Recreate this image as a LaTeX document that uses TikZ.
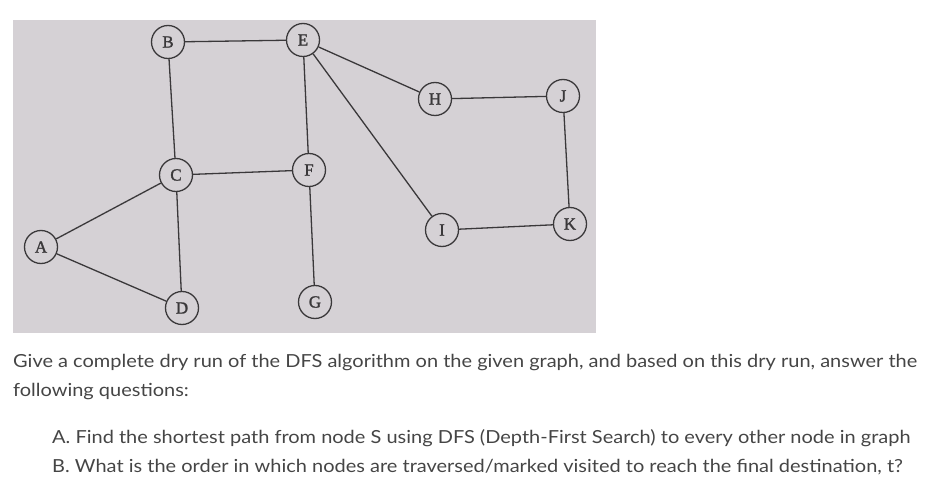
\documentclass[tikz,border=0pt]{standalone}
\usepackage{fontspec}
\setmainfont{Lato}[FakeStretch=1.11]
\newfontfamily\lettfont{Liberation Serif}[FakeBold=1.5]
\usepackage{tikz}
\usetikzlibrary{positioning}
\definecolor{photobg}{HTML}{D5D1D5}
\definecolor{inkline}{HTML}{3A383A}
\definecolor{qtext}{HTML}{454545}

\begin{document}
\begin{tikzpicture}[
    x=1pt, y=-1pt,
    vert/.style={
        circle, draw=inkline, line width=1.3pt, fill=photobg,
        minimum size=33pt, inner sep=0pt,
        font=\lettfont\fontsize{17}{17}\selectfont, text=inkline
    },
    edge/.style={draw=inkline, line width=1.3pt},
    qline/.style={anchor=west, inner sep=0pt,
        font=\fontsize{18}{20}\selectfont, text=qtext},
]

\useasboundingbox (0,0) rectangle (929,489);

%% ============ PHOTO BACKGROUND ============
\fill[photobg] (13,20) rectangle (596,333);

%% ============ VERTICES ============
\node[vert] (A) at (41,247) {A};
\node[vert] (B) at (168,42) {B};
\node[vert] (E) at (303,40) {E};
\node[vert] (C) at (176,175) {C};
\node[vert] (F) at (309,170) {F};
\node[vert] (D) at (182,308) {D};
\node[vert] (G) at (315,302) {G};
\node[vert] (H) at (435,99) {H};
\node[vert] (J) at (563,96) {J};
\node[vert] (I) at (442,230) {I};
\node[vert] (K) at (570,224) {K};

%% ============ EDGES ============
\draw[edge] (B) -- (E);
\draw[edge] (B) -- (C);
\draw[edge] (E) -- (F);
\draw[edge] (E) -- (H);
\draw[edge] (E) -- (I);
\draw[edge] (H) -- (J);
\draw[edge] (J) -- (K);
\draw[edge] (I) -- (K);
\draw[edge] (C) -- (F);
\draw[edge] (F) -- (G);
\draw[edge] (C) -- (D);
\draw[edge] (A) -- (C);
\draw[edge] (A) -- (D);

%% ============ QUESTION TEXT ============
\node[qline] (q1) at (13,363) {Give a complete dry run of the DFS algorithm on the given graph, and based on this dry run, answer the};
\node[qline] (q2) at (13,392) {following questions:};
\node[qline] (qa) at (52,438) {A. Find the shortest path from node S using DFS (Depth-First Search) to every other node in graph};
\node[qline] (qb) at (52,467) {B. What is the order in which nodes are traversed/marked visited to reach the final destination, t?};

\end{tikzpicture}
\end{document}
